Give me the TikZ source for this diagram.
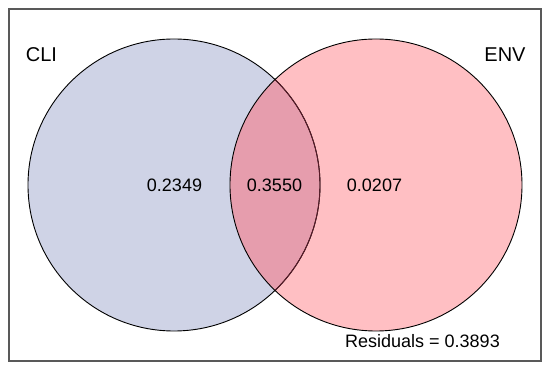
\documentclass[tikz,border=0pt]{standalone}
\usepackage{fontspec}
\setmainfont{Liberation Sans}
\usetikzlibrary{positioning}
\definecolor{cliblue}{HTML}{CFD3E6}
\definecolor{envpink}{HTML}{FFBFC3}
\definecolor{bothpink}{HTML}{E69DAD}
\definecolor{rimred}{HTML}{5A1A28}

\begin{document}
\begin{tikzpicture}[x=1pt,y=-1pt,
  setname/.style={font=\fontsize{20}{24}\selectfont, inner sep=0pt},
  share/.style={font=\fontsize{18}{22}\selectfont, inner sep=0pt},
  rim/.style={line width=0.9pt}]
\useasboundingbox (0,0) rectangle (550,371);
\draw[black!65, line width=1.4pt] (9,9) rectangle (541,361);
% the two sets
\fill[cliblue] (174,185) circle (146pt);
\fill[envpink] (376,185) circle (146pt);
\begin{scope}
  \clip (174,185) circle (146pt);
  \fill[bothpink] (376,185) circle (146pt);
\end{scope}
\draw[rim] (174,185) circle (146pt);
\begin{scope}
  \clip (376,185) circle (146pt);
  \draw[rim, rimred] (174,185) circle (146pt);
\end{scope}
\draw[rim] (376,185) circle (146pt);
% labels
\node[setname] (cli) at (41.5,55) {CLI};
\node[setname] (env) at (505,55) {ENV};
\node[share] (onlycli) at (174.5,185) {0.2349};
\node[share] (both) at (274.5,185) {0.3550};
\node[share] (onlyenv) at (374.5,185) {0.0207};
\node[share] (resid) at (422.5,341) {Residuals = 0.3893};
\end{tikzpicture}
\end{document}
